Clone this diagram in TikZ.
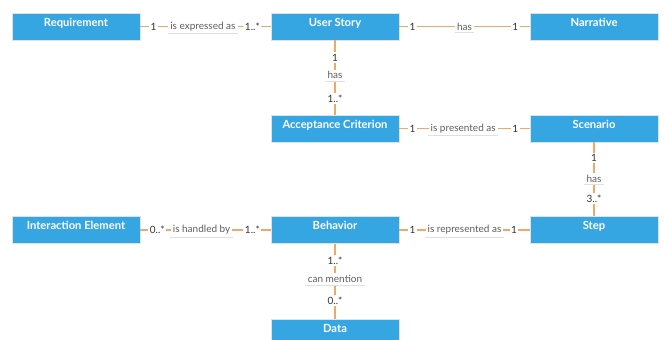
\documentclass[tikz,border=0pt]{standalone}
\usepackage{fontspec}
\setmainfont{Lato}
\definecolor{boxblue}{HTML}{36A6E2}
\definecolor{boxedge}{HTML}{DDE3E8}
\definecolor{conn}{HTML}{F0A866}
\definecolor{lbltxt}{HTML}{5E5E5E}
\definecolor{multxt}{HTML}{333333}
\tikzset{
  entity/.style={rectangle, fill=boxblue, draw=boxedge, line width=0.8pt,
    minimum width=128pt, minimum height=27pt, inner sep=3pt,
    text height=10pt, text depth=11pt, text=white,
    font=\fontsize{11.2}{13}\selectfont\bfseries},
  link/.style={draw=conn, line width=1.1pt},
  mult/.style={fill=white, inner sep=1.5pt, text=multxt, font=\fontsize{10}{12}\selectfont},
  rel/.style={fill=white, inner sep=2pt, text=lbltxt, font=\fontsize{10}{12}\selectfont,
    append after command={(\tikzlastnode.south west) edge[draw=black!12, line width=0.6pt] (\tikzlastnode.south east)}}
}
\begin{document}
\begin{tikzpicture}[x=1pt,y=-1pt]
\useasboundingbox (0,0) rectangle (664,340);
\node[entity] (req) at (76,26.5) {Requirement};
\node[entity] (us) at (335,26.5) {User Story};
\node[entity] (nar) at (594,26.5) {Narrative};
\node[entity] (ac) at (335,128.5) {Acceptance Criterion};
\node[entity] (sc) at (594,128.5) {Scenario};
\node[entity] (ie) at (76,230) {Interaction Element};
\node[entity] (beh) at (335,230) {Behavior};
\node[entity] (st) at (594,230) {Step};
\node[entity] (dat) at (335,332.5) {Data};

\draw[link] (req.east) -- node[mult,pos=.10]{1} node[rel,pos=.48]{is expressed as} node[mult,pos=.86]{1..*} (us.west);
\draw[link] (us.east) -- node[mult,pos=.10]{1} node[rel,pos=.50]{has} node[mult,pos=.89]{1} (nar.west);
\draw[link] (us.south) -- node[mult,pos=.23]{1} node[rel,pos=.47]{has} node[mult,pos=.78]{1..*} (ac.north);
\draw[link] (ac.east) -- node[mult,pos=.10]{1} node[rel,pos=.49]{is presented as} node[mult,pos=.89]{1} (sc.west);
\draw[link] (sc.south) -- node[mult,pos=.21]{1} node[rel,pos=.49]{has} node[mult,pos=.76]{3..*} (st.north);
\draw[link] (ie.east) -- node[mult,pos=.13]{0..*} node[rel,pos=.47]{is handled by} node[mult,pos=.86]{1..*} (beh.west);
\draw[link] (beh.east) -- node[mult,pos=.10]{1} node[rel,pos=.50]{is represented as} node[mult,pos=.88]{1} (st.west);
\draw[link] (beh.south) -- node[mult,pos=.22]{1..*} node[rel,pos=.47]{can mention} node[mult,pos=.76]{0..*} (dat.north);
\end{tikzpicture}
\end{document}
